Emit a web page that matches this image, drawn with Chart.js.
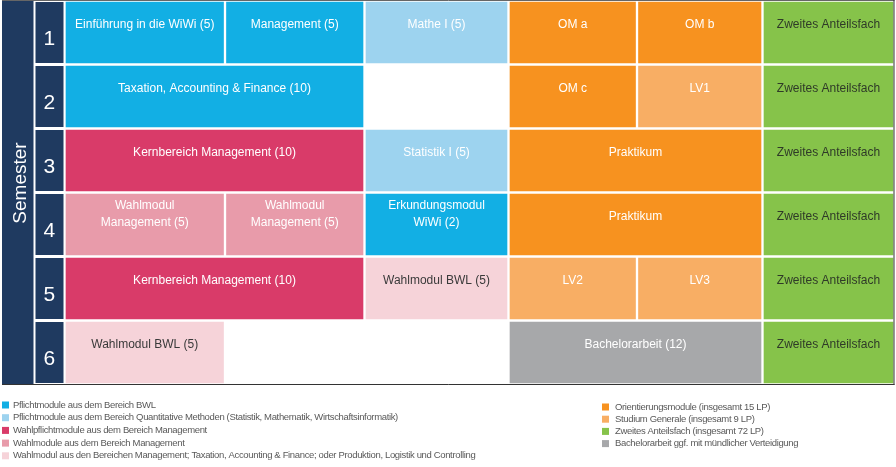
<!DOCTYPE html>
<html><head><meta charset="utf-8">
<script src="https://cdn.jsdelivr.net/npm/chart.js@4.4.1/dist/chart.umd.min.js"></script>
<style>html,body{margin:0;padding:0;background:#fff;}canvas{display:block}</style>
</head><body>
<canvas id="c" width="896" height="467"></canvas>
<script>
// ---------- DATA ----------
const semesters = ['1', '2', '3', '4', '5', '6'];
const axisTitle = 'Semester';
const categoryNames = [
  'Pflichtmodule aus dem Bereich BWL',
  'Pflichtmodule aus dem Bereich Quantitative Methoden (Statistik, Mathematik, Wirtschaftsinformatik)',
  'Wahlpflichtmodule aus dem Bereich Management',
  'Wahlmodule aus dem Bereich Management',
  'Wahlmodul aus den Bereichen Management; Taxation, Accounting & Finance; oder Produktion, Logistik und Controlling',
  'Orientierungsmodule (insgesamt 15 LP)',
  'Studium Generale (insgesamt 9 LP)',
  'Zweites Anteilsfach (insgesamt 72 LP)',
  'Bachelorarbeit ggf. mit mündlicher Verteidigung'
];
const moduleNames = [
  'Einführung in die WiWi (5)', 'Management (5)', 'Mathe I (5)', 'OM a', 'OM b', 'Zweites Anteilsfach',
  'Taxation, Accounting & Finance (10)', 'OM c', 'LV1', 'Zweites Anteilsfach',
  'Kernbereich Management (10)', 'Statistik I (5)', 'Praktikum', 'Zweites Anteilsfach',
  'Wahlmodul\nManagement (5)', 'Wahlmodul\nManagement (5)', 'Erkundungsmodul\nWiWi (2)', 'Praktikum', 'Zweites Anteilsfach',
  'Kernbereich Management (10)', 'Wahlmodul BWL (5)', 'LV2', 'LV3', 'Zweites Anteilsfach',
  'Wahlmodul BWL (5)', 'Bachelorarbeit (12)', 'Zweites Anteilsfach'
];
const moduleSemester = [
  '1', '1', '1', '1', '1', '1',
  '2', '2', '2', '2',
  '3', '3', '3', '3',
  '4', '4', '4', '4', '4',
  '5', '5', '5', '5', '5',
  '6', '6', '6'
];
const moduleFirstSlot = [
  0, 1, 2, 3, 4, 5,
  0, 3, 4, 5,
  0, 2, 3, 5,
  0, 1, 2, 3, 5,
  0, 2, 3, 4, 5,
  0, 3, 5
];
const moduleLastSlot = [
  0, 1, 2, 3, 4, 5,
  1, 3, 4, 5,
  1, 2, 4, 5,
  0, 1, 2, 4, 5,
  1, 2, 3, 4, 5,
  0, 4, 5
];
const moduleCategory = [
  0, 0, 1, 5, 5, 7,
  0, 5, 6, 7,
  2, 1, 5, 7,
  3, 3, 0, 5, 7,
  2, 4, 6, 6, 7,
  4, 8, 7
];

// ---------- STYLE / LAYOUT ----------
const CAT_COLORS = ['#12AFE4', '#9DD3EF', '#D93B69', '#E89BAA', '#F6D3D9', '#F7921F', '#F8AE64', '#86C34A', '#A7A8AA'];
const CAT_TEXT   = ['#ffffff', '#ffffff', '#ffffff', '#ffffff', '#3a3a3a', '#ffffff', '#ffffff', '#2f3a28', '#ffffff'];
const SLOT_WIDTHS = [160.5, 139.5, 144, 128.5, 125.5, 132];
const NAVY = '#1F3A60';
const slotEdges = SLOT_WIDTHS.reduce((a, w) => { a.push(a[a.length - 1] + w); return a; }, [0]);

const datasets = CAT_COLORS.map((col, c) => ({
  label: categoryNames[c],
  backgroundColor: col,
  borderColor: '#ffffff',
  borderWidth: 1.5,
  borderSkipped: false,
  grouped: false,
  categoryPercentage: 1,
  barPercentage: 1,
  data: moduleNames.map((n, i) => ({ n, i }))
    .filter(o => moduleCategory[o.i] === c)
    .map(o => ({ x: [slotEdges[moduleFirstSlot[o.i]], slotEdges[moduleLastSlot[o.i] + 1]], y: moduleSemester[o.i], label: o.n }))
}));

const FONT = '"Liberation Sans", Arial, sans-serif';

const backPlugin = {
  id: 'backPlugin',
  beforeDraw(chart) {
    const ctx = chart.ctx, ys = chart.scales.y, ca = chart.chartArea;
    ctx.save();
    ctx.fillStyle = NAVY;
    ctx.fillRect(2, ca.top + 0.5, 31.5, ca.bottom - ca.top - 1);
    const h = (ca.bottom - ca.top) / semesters.length;
    semesters.forEach((s, i) => {
      const yc = ys.getPixelForValue(i);
      ctx.fillRect(35.5, yc - h / 2 + 1.5, 28, h - 3);
    });
    ctx.restore();
  },
  afterDraw(chart) {
    const ctx = chart.ctx, ca = chart.chartArea;
    ctx.save();
    // Semester title
    ctx.translate(20.5, (ca.top + ca.bottom) / 2 - 9.5);
    ctx.rotate(-Math.PI / 2);
    ctx.fillStyle = '#ffffff';
    ctx.font = '19px ' + FONT;
    ctx.textAlign = 'center';
    ctx.textBaseline = 'middle';
    ctx.fillText(axisTitle, 0, 0);
    ctx.restore();
    // frame
    ctx.save();
    ctx.strokeStyle = '#666';
    ctx.lineWidth = 1;
    ctx.beginPath();
    ctx.moveTo(2, 0.5); ctx.lineTo(894.5, 0.5);
    ctx.stroke();
    ctx.strokeStyle = '#333';
    ctx.beginPath();
    ctx.moveTo(894, 0); ctx.lineTo(894, 385);
    ctx.moveTo(2, 384.5); ctx.lineTo(894.5, 384.5);
    ctx.stroke();
    ctx.restore();
    // legend
    ctx.save();
    ctx.font = '9.5px ' + FONT;
    ctx.letterSpacing = '-0.35px';
    ctx.textBaseline = 'middle';
    ctx.textAlign = 'left';
    categoryNames.forEach((name, c) => {
      let mx, tx, y;
      if (c < 5) { mx = 2; tx = 13; y = 405 + c * 12.7; }
      else { mx = 602; tx = 615; y = 407 + (c - 5) * 12.2; }
      ctx.fillStyle = CAT_COLORS[c];
      ctx.fillRect(mx, y - 3.5, 7, 7);
      ctx.fillStyle = '#595959';
      ctx.fillText(name, tx, y);
    });
    ctx.restore();
  }
};

const labelPlugin = {
  id: 'labelPlugin',
  afterDatasetsDraw(chart) {
    const ctx = chart.ctx;
    ctx.save();
    ctx.font = '12px ' + FONT;
    ctx.textAlign = 'center';
    ctx.textBaseline = 'middle';
    chart.data.datasets.forEach((ds, di) => {
      const meta = chart.getDatasetMeta(di);
      meta.data.forEach((bar, i) => {
        const p = bar.getProps(['x', 'base', 'y'], true);
        const lines = ds.data[i].label.split('\n');
        const cx = (p.x + p.base) / 2;
        const y0 = p.y - 8 - (lines.length - 1) * 11;
        ctx.fillStyle = CAT_TEXT[di];
        lines.forEach((l, k) => ctx.fillText(l, cx, y0 + k * 17));
      });
    });
    ctx.restore();
  }
};

new Chart(document.getElementById('c'), {
  type: 'bar',
  data: { labels: semesters, datasets },
  options: {
    indexAxis: 'y',
    responsive: false,
    animation: false,
    devicePixelRatio: 1,
    layout: { padding: { left: 2, top: 0.5, right: 1.5, bottom: 82.5 } },
    plugins: { legend: { display: false }, tooltip: { enabled: false } },
    scales: {
      x: { type: 'linear', display: false, min: 0, max: slotEdges[slotEdges.length - 1] },
      y: {
        type: 'category',
        offset: true,
        grid: { display: false, drawTicks: false },
        border: { display: false },
        ticks: { color: '#ffffff', font: { size: 21, family: FONT }, crossAlign: 'center', padding: 9.2, labelOffset: 7 },
        afterFit(scale) { scale.width = 62.5; scale.paddingTop = 0; scale.paddingBottom = 0; }
      }
    }
  },
  plugins: [backPlugin, labelPlugin]
});
</script>
</body></html>
